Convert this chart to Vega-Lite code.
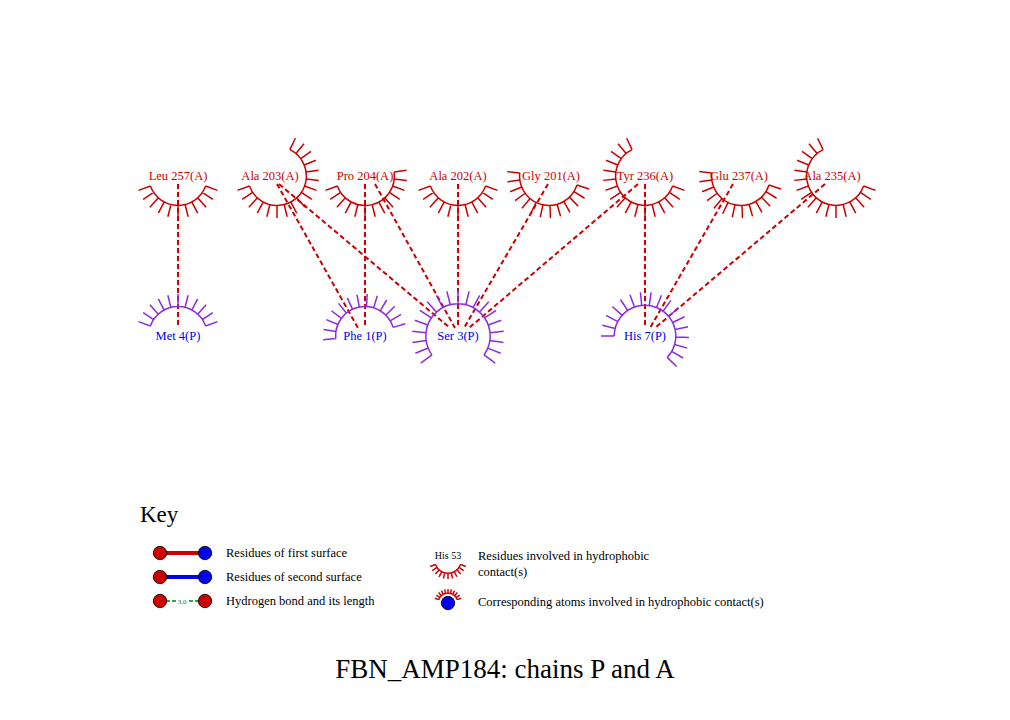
{
"$schema":"https://vega.github.io/schema/vega-lite/v6.json",
"width":1010,"height":720,"padding":0,
"autosize":{"type":"fit","contains":"padding"},
"config":{"view":{"stroke":null},"font":"Liberation Serif"},
"datasets":{
"arcs":[
{"name":"Leu 257(A)","x":178,"y":176,"arc":"s140","rot":20,"side":"A","r":42},
{"name":"Ala 203(A)","x":277,"y":176,"arc":"s224","rot":296,"side":"A","r":42},
{"name":"Pro 204(A)","x":365,"y":176,"arc":"s168","rot":352,"side":"A","r":42},
{"name":"Ala 202(A)","x":458,"y":176,"arc":"s140","rot":20,"side":"A","r":42},
{"name":"Gly 201(A)","x":549,"y":176,"arc":"s168","rot":18,"side":"A","r":42},
{"name":"Tyr 236(A)","x":645,"y":176,"arc":"s224","rot":20,"side":"A","r":42},
{"name":"Glu 237(A)","x":741,"y":176,"arc":"s168","rot":18,"side":"A","r":42},
{"name":"Ala 235(A)","x":836,"y":176,"arc":"s224","rot":20,"side":"A","r":42},
{"name":"Met 4(P)","x":178,"y":336,"arc":"s140","rot":200,"side":"P","r":42},
{"name":"Phe 1(P)","x":365,"y":336,"arc":"s168","rot":175,"side":"P","r":42},
{"name":"Ser 3(P)","x":458,"y":336,"arc":"s252","rot":144,"side":"P","r":46},
{"name":"His 7(P)","x":645,"y":336,"arc":"s224","rot":180,"side":"P","r":44},
{"name":"key1","x":448,"y":560,"arc":"s140","rot":20,"side":"A","r":19},
{"name":"key2","x":448,"y":603,"arc":"s140","rot":200,"side":"A","r":14}
],
"labels":[
{"t":"Leu 257(A)","x":178,"y":176,"side":"A"},
{"t":"Ala 203(A)","x":270,"y":176,"side":"A"},
{"t":"Pro 204(A)","x":365,"y":176,"side":"A"},
{"t":"Ala 202(A)","x":458,"y":176,"side":"A"},
{"t":"Gly 201(A)","x":551,"y":176,"side":"A"},
{"t":"Tyr 236(A)","x":645,"y":176,"side":"A"},
{"t":"Glu 237(A)","x":739,"y":176,"side":"A"},
{"t":"Ala 235(A)","x":832,"y":176,"side":"A"},
{"t":"Met 4(P)","x":178,"y":336,"side":"P"},
{"t":"Phe 1(P)","x":365,"y":336,"side":"P"},
{"t":"Ser 3(P)","x":458,"y":336,"side":"P"},
{"t":"His 7(P)","x":645,"y":336,"side":"P"}
],
"bonds":[
{"x":178,"y":184,"x2":178,"y2":328},
{"x":277,"y":184,"x2":358,"y2":328},
{"x":279,"y":184,"x2":450,"y2":328},
{"x":365,"y":184,"x2":365,"y2":328},
{"x":375,"y":184,"x2":455,"y2":328},
{"x":458,"y":184,"x2":458,"y2":328},
{"x":548,"y":184,"x2":464,"y2":328},
{"x":638,"y":184,"x2":469,"y2":328},
{"x":645,"y":184,"x2":645,"y2":328},
{"x":733,"y":184,"x2":650,"y2":328},
{"x":825,"y":184,"x2":655,"y2":328}
],
"keylines":[
{"x":160,"y":553,"x2":205,"y2":553,"k":"first"},
{"x":160,"y":577,"x2":205,"y2":577,"k":"second"}
],
"hbond":[
{"x":160,"y":601,"x2":176,"y2":601},
{"x":189,"y":601,"x2":205,"y2":601}
],
"dots":[
{"x":160,"y":553,"c":"blue"},{"x":205,"y":553,"c":"black"},
{"x":160,"y":577,"c":"blue"},{"x":205,"y":577,"c":"black"},
{"x":160,"y":601,"c":"blue"},{"x":205,"y":601,"c":"red"},
{"x":448,"y":603,"c":"black"}
],
"keytext":[
{"t":"Residues of first surface","x":226,"y":553},
{"t":"Residues of second surface","x":226,"y":577},
{"t":"Hydrogen bond and its length","x":226,"y":601},
{"t":"Residues involved in hydrophobic","x":478,"y":556},
{"t":"contact(s)","x":478,"y":572},
{"t":"Corresponding atoms involved in hydrophobic contact(s)","x":478,"y":602}
]
},
"encoding":{
"x":{"field":"x","type":"quantitative","scale":{"domain":[0,1010],"nice":false,"zero":false},"axis":null},
"y":{"field":"y","type":"quantitative","scale":{"domain":[0,720],"nice":false,"zero":false,"reverse":true},"axis":null}
},
"layer":[
{"data":{"name":"bonds"},"mark":{"type":"rule","color":"#cc0000","strokeWidth":2,"strokeDash":[5,3]},
 "encoding":{"x2":{"field":"x2"},"y2":{"field":"y2"}}},
{"data":{"name":"arcs"},"mark":{"type":"point","filled":false,"strokeWidth":1.5,"opacity":1},
 "encoding":{
  "shape":{"field":"arc","type":"nominal","legend":null,"scale":{"domain":["s140","s168","s224","s252"],"range":[
   "M 0.7 0 A 0.7 0.7 0 0 1 -0.536 0.45 M 0.7 0 L 1 0 M 0.679 0.169 L 0.97 0.242 M 0.618 0.328 L 0.883 0.469 M 0.52 0.468 L 0.743 0.669 M 0.391 0.58 L 0.559 0.829 M 0.239 0.658 L 0.342 0.94 M 0.074 0.697 L 0.105 0.995 M -0.097 0.693 L -0.139 0.99 M -0.263 0.649 L -0.375 0.927 M -0.412 0.566 L -0.588 0.809 M -0.536 0.45 L -0.766 0.643",
   "M 0.7 0 A 0.7 0.7 0 0 1 -0.685 0.146 M 0.7 0 L 1 0 M 0.679 0.169 L 0.97 0.242 M 0.618 0.328 L 0.883 0.469 M 0.52 0.468 L 0.743 0.669 M 0.391 0.58 L 0.559 0.829 M 0.239 0.658 L 0.342 0.94 M 0.074 0.697 L 0.105 0.995 M -0.097 0.693 L -0.139 0.99 M -0.263 0.649 L -0.375 0.927 M -0.412 0.566 L -0.588 0.809 M -0.536 0.45 L -0.766 0.643 M -0.629 0.307 L -0.899 0.438 M -0.685 0.146 L -0.978 0.208",
   "M 0.7 0 A 0.7 0.7 0 1 1 -0.504 -0.486 M 0.7 0 L 1 0 M 0.679 0.169 L 0.97 0.242 M 0.618 0.328 L 0.883 0.469 M 0.52 0.468 L 0.743 0.669 M 0.391 0.58 L 0.559 0.829 M 0.239 0.658 L 0.342 0.94 M 0.074 0.697 L 0.105 0.995 M -0.097 0.693 L -0.139 0.99 M -0.263 0.649 L -0.375 0.927 M -0.412 0.566 L -0.588 0.809 M -0.536 0.45 L -0.766 0.643 M -0.629 0.307 L -0.899 0.438 M -0.685 0.146 L -0.978 0.208 M -0.699 -0.024 L -0.999 -0.035 M -0.673 -0.193 L -0.961 -0.276 M -0.606 -0.35 L -0.866 -0.5 M -0.504 -0.486 L -0.719 -0.695",
   "M 0.7 0 A 0.7 0.7 0 1 1 -0.216 -0.666 M 0.7 0 L 1 0 M 0.679 0.169 L 0.97 0.242 M 0.618 0.328 L 0.883 0.469 M 0.52 0.468 L 0.743 0.669 M 0.391 0.58 L 0.559 0.829 M 0.239 0.658 L 0.342 0.94 M 0.074 0.697 L 0.105 0.995 M -0.097 0.693 L -0.139 0.99 M -0.263 0.649 L -0.375 0.927 M -0.412 0.566 L -0.588 0.809 M -0.536 0.45 L -0.766 0.643 M -0.629 0.307 L -0.899 0.438 M -0.685 0.146 L -0.978 0.208 M -0.699 -0.024 L -0.999 -0.035 M -0.673 -0.193 L -0.961 -0.276 M -0.606 -0.35 L -0.866 -0.5 M -0.504 -0.486 L -0.719 -0.695 M -0.371 -0.594 L -0.53 -0.848 M -0.216 -0.666 L -0.309 -0.951"
  ]}},
  "angle":{"field":"rot","type":"quantitative","scale":{"domain":[0,360],"range":[0,360]}},
  "stroke":{"field":"side","type":"nominal","legend":null,"scale":{"domain":["A","P"],"range":["#cc0000","#8a2be2"]}},
  "size":{"field":"r","type":"quantitative","legend":null,"scale":{"type":"pow","exponent":2,"domain":[0,50],"range":[0,10000]}}
 }},
{"data":{"name":"labels"},"mark":{"type":"text","fontSize":12.5,"baseline":"middle","align":"center"},
 "encoding":{"text":{"field":"t"},"color":{"field":"side","type":"nominal","legend":null,"scale":{"domain":["A","P"],"range":["#cc0000","#0000ee"]}}}},
{"data":{"name":"keylines"},"mark":{"type":"rule","strokeWidth":4},
 "encoding":{"x2":{"field":"x2"},"y2":{"field":"y2"},"color":{"field":"k","type":"nominal","legend":null,"scale":{"domain":["first","second"],"range":["#8a2be2","#cc8400"]}}}},
{"data":{"name":"hbond"},"mark":{"type":"rule","strokeWidth":1.5,"color":"#008000","strokeDash":[4,2]},
 "encoding":{"x2":{"field":"x2"},"y2":{"field":"y2"}}},
{"data":{"name":"dots"},"mark":{"type":"circle","size":180,"opacity":1,"stroke":"black","strokeWidth":0.8},
 "encoding":{"color":{"field":"c","type":"nominal","legend":null,"scale":{"domain":["blue","black","red"],"range":["#0000ff","#000000","#ff0000"]}}}},
{"data":{"values":[{"x":182,"y":602,"t":"3.0"}]},"mark":{"type":"text","fontSize":7,"color":"#008000","baseline":"middle"},"encoding":{"text":{"field":"t"}}},
{"data":{"values":[{"x":448,"y":556,"t":"His 53"}]},"mark":{"type":"text","fontSize":10,"color":"black","baseline":"middle"},"encoding":{"text":{"field":"t"}}},
{"data":{"name":"keytext"},"mark":{"type":"text","fontSize":12.5,"color":"black","align":"left","baseline":"middle"},"encoding":{"text":{"field":"t"}}},
{"data":{"values":[{"x":140,"y":515,"t":"Key"}]},"mark":{"type":"text","fontSize":23,"color":"black","align":"left","baseline":"middle"},"encoding":{"text":{"field":"t"}}},
{"data":{"values":[{"x":505,"y":670,"t":"FBN_AMP184: chains P and A"}]},"mark":{"type":"text","fontSize":27,"color":"black","align":"center","baseline":"middle"},"encoding":{"text":{"field":"t"}}}
]
}
